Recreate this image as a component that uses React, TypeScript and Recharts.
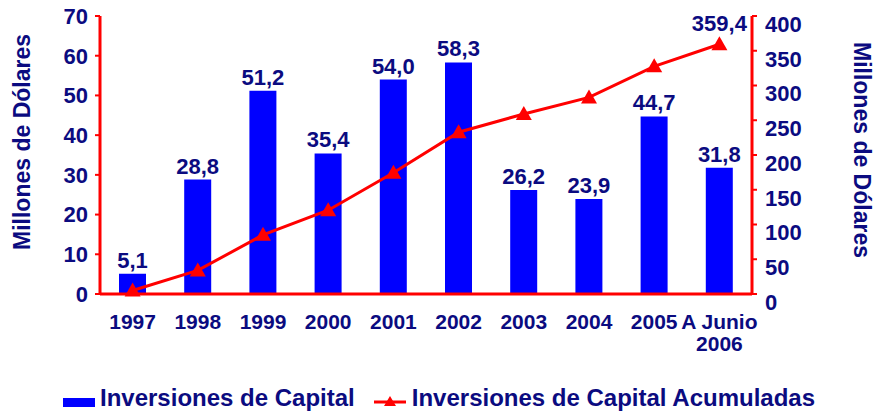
import React from 'react';
import {
  ComposedChart, Bar, Line, XAxis, YAxis, Legend, LabelList, Label
} from 'recharts';

const years = ['1997', '1998', '1999', '2000', '2001', '2002', '2003', '2004', '2005', 'A Junio|2006'];
const inversiones = [5.1, 28.8, 51.2, 35.4, 54.0, 58.3, 26.2, 23.9, 44.7, 31.8];
const acumuladas = [5.1, 33.9, 85.1, 120.5, 174.5, 232.8, 259.0, 282.9, 327.6, 359.4];
const leftTicks = [0, 10, 20, 30, 40, 50, 60, 70];
const rightTicks = [0, 50, 100, 150, 200, 250, 300, 350, 400];

const NAVY = '#0b0b80';
const BLUE = '#0000ff';
const RED = '#ff0000';
const FONT = '"Liberation Sans", Arial, sans-serif';

const data = years.map((y, i) => ({ year: y, inv: inversiones[i], acum: acumuladas[i] }));

const fmt = (v: number) => v.toFixed(1).replace('.', ',');

// eje X con etiqueta de dos líneas para "A Junio 2006"
function YearTick({ x, y, payload }: any) {
  const lines = String(payload.value).split('|');
  return (
    <text x={x} y={y} textAnchor="middle" fill={NAVY} fontFamily={FONT} fontWeight="bold" fontSize={21}>
      {lines.map((l, i) => (
        <tspan key={i} x={x} dy={i === 0 ? 27 : 22}>{l}</tspan>
      ))}
    </text>
  );
}

function Triangle({ cx, cy }: any) {
  if (cx == null || cy == null) return null;
  return <path d={`M${cx},${cy - 8} L${cx + 8},${cy + 6} L${cx - 8},${cy + 6} Z`} fill={RED} />;
}

function LegendBox() {
  const txt = { color: NAVY, fontFamily: FONT, fontWeight: 'bold' as const, fontSize: 24, lineHeight: '30px' };
  return (
    <div style={{ display: 'flex', alignItems: 'center', paddingLeft: 63 }}>
      <span style={{ display: 'inline-block', width: 32, height: 9, background: BLUE, marginRight: 5, marginTop: 8 }} />
      <span style={txt}>Inversiones de Capital</span>
      <svg width={32} height={14} style={{ marginLeft: 19, marginRight: 6, marginTop: 8 }}>
        <line x1={0} y1={7} x2={32} y2={7} stroke={RED} strokeWidth={3} />
        <path d="M16,1 L22,11 L10,11 Z" fill={RED} />
      </svg>
      <span style={txt}>Inversiones de Capital Acumuladas</span>
    </div>
  );
}

function AxisTitle({ viewBox, cx, cy, angle }: any) {
  return (
    <text x={viewBox.x + cx} y={cy} transform={`rotate(${angle} ${viewBox.x + cx} ${cy})`}
      textAnchor="middle" dominantBaseline="central" fill={NAVY} fontFamily={FONT}
      fontWeight="bold" fontSize={23}>Millones de Dólares</text>
  );
}

export default function App() {
  const tickStyle = { fill: NAVY, fontFamily: FONT, fontWeight: 'bold', fontSize: 22 };
  return (
    <div style={{ position: 'absolute', left: 0, top: 0, width: 876, height: 413, background: '#fff' }}>
      <ComposedChart width={876} height={413} data={data} margin={{ top: 16, right: 0, bottom: 0, left: 0 }}
        barSize={27}>
        <XAxis dataKey="year" height={89} tick={<YearTick />} tickLine={false}
          axisLine={{ stroke: RED, strokeWidth: 3 }} interval={0} />
        <YAxis yAxisId="left" domain={[0, 70]} ticks={leftTicks} width={100} tickSize={5} tickMargin={7}
          axisLine={{ stroke: RED, strokeWidth: 3 }} tickLine={{ stroke: RED, strokeWidth: 2 }} tick={tickStyle}>
          <Label content={(p: any) => <AxisTitle {...p} cx={22} cy={142} angle={-90} />} />
        </YAxis>
        <YAxis yAxisId="right" orientation="right" domain={[0, 400]} ticks={rightTicks} width={124}
          tickSize={5} tickMargin={8} axisLine={{ stroke: RED, strokeWidth: 3 }}
          tickLine={{ stroke: RED, strokeWidth: 2 }} tick={{ ...tickStyle, dy: 8 }}>
          <Label content={(p: any) => <AxisTitle {...p} cx={110} cy={150} angle={90} />} />
        </YAxis>
        <Legend verticalAlign="bottom" height={30} content={<LegendBox />} />
        <Bar yAxisId="left" dataKey="inv" fill={BLUE} isAnimationActive={false}>
          <LabelList dataKey="inv" position="top" offset={6} formatter={(v: any) => fmt(Number(v))}
            style={{ fill: NAVY, fontFamily: FONT, fontWeight: 'bold', fontSize: 22 }} />
        </Bar>
        <Line yAxisId="right" dataKey="acum" stroke={RED} strokeWidth={3} dot={<Triangle />}
          activeDot={false} isAnimationActive={false}>
          <LabelList dataKey="acum"
            content={(p: any) => p.index === acumuladas.length - 1 ? (
              <text x={p.x} y={p.y - 13} textAnchor="middle" fill={NAVY} fontFamily={FONT}
                fontWeight="bold" fontSize={22}>{fmt(Number(p.value))}</text>
            ) : null} />
        </Line>
      </ComposedChart>
    </div>
  );
}
